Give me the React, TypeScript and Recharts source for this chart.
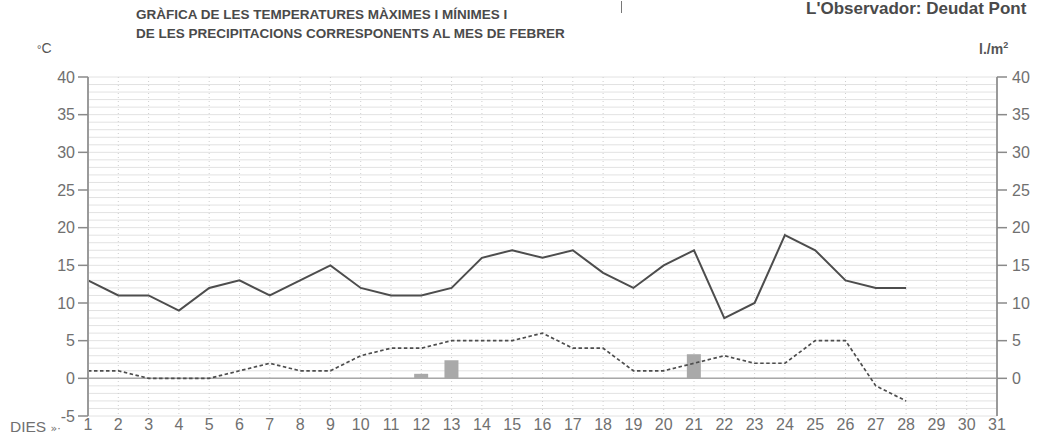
import React from "react";
import {
  ComposedChart,
  Line,
  Bar,
  XAxis,
  YAxis,
  CartesianGrid,
  ReferenceLine,
} from "recharts";

const days = [
  1, 2, 3, 4, 5, 6, 7, 8, 9, 10, 11, 12, 13, 14, 15, 16, 17, 18, 19, 20, 21, 22, 23, 24, 25, 26, 27, 28, 29, 30, 31,
];
const maxTemp = [
  13, 11, 11, 9, 12, 13, 11, 13, 15, 12, 11, 11, 12, 16, 17, 16, 17, 14, 12, 15, 17, 8, 10, 19, 17, 13, 12, 12, null, null, null,
];
const minTemp = [
  1, 1, 0, 0, 0, 1, 2, 1, 1, 3, 4, 4, 5, 5, 5, 6, 4, 4, 1, 1, 2, 3, 2, 2, 5, 5, -1, -3, null, null, null,
];
const rain = [
  0, 0, 0, 0, 0, 0, 0, 0, 0, 0, 0, 0.6, 2.4, 0, 0, 0, 0, 0, 0, 0, 3.2, 0, 0, 0, 0, 0, 0, 0, 0, 0, 0,
];
const tempTicks = [-5, 0, 5, 10, 15, 20, 25, 30, 35, 40];
const rainTicks = [0, 5, 10, 15, 20, 25, 30, 35, 40];
const gridValues = Array.from({ length: 46 }, (_, i) => i - 5);

const data = days.map((d, i) => ({
  day: d,
  max: maxTemp[i],
  min: minTemp[i],
  rain: rain[i],
}));

const FONT = "'Liberation Sans Narrow', 'Liberation Sans', Arial, sans-serif";
const GRAY = "#707070";

export default function App() {
  return (
    <div
      style={{
        position: "absolute",
        left: 0,
        top: 0,
        width: 1040,
        height: 439,
        overflow: "hidden",
        background: "#fff",
        fontFamily: FONT,
      }}
    >
      <div style={{ position: "absolute", left: 136, top: 5, fontSize: 13.5, fontWeight: "bold", color: "#4a4a4a", lineHeight: "19px" }}>
        GRÀFICA DE LES TEMPERATURES MÀXIMES I MÍNIMES I
        <br />
        DE LES PRECIPITACIONS CORRESPONENTS AL MES DE FEBRER
      </div>
      <div style={{ position: "absolute", left: 806, top: 0, fontSize: 17, lineHeight: "17px", fontWeight: "bold", color: "#4a4a4a", whiteSpace: "nowrap" }}>
        L'Observador: Deudat Pont
      </div>
      <div style={{ position: "absolute", left: 621, top: 1, width: 1, height: 12, background: "#777" }} />
      <div style={{ position: "absolute", left: 37, top: 40, fontSize: 14, color: "#555" }}>
        <span style={{ fontSize: 11 }}>°</span>C
      </div>
      <div style={{ position: "absolute", left: 979, top: 40, fontSize: 14, color: "#555", fontWeight: "bold" }}>
        l./m<sup style={{ fontSize: 9 }}>2</sup>
      </div>
      <div style={{ position: "absolute", left: 10, top: 418, fontSize: 15.5, color: GRAY }}>
        DIES <span style={{ fontSize: 11, fontFamily: "DejaVu Sans" }}>»·</span>
      </div>
      <ComposedChart
        width={1040}
        height={439}
        data={data}
        margin={{ top: 77, right: 0, bottom: 0, left: 0 }}
      >
        <CartesianGrid
          yAxisId="t"
          vertical={false}
          horizontal={true}
          horizontalValues={gridValues}
          stroke="#e2e2e2"
        />
        <CartesianGrid yAxisId="t" vertical={true} horizontal={false} stroke="#cfcfcf" strokeDasharray="1 3" />
        <XAxis
          dataKey="day"
          type="number"
          domain={[1, 31]}
          ticks={days}
          interval={0}
          axisLine={false}
          tickLine={false}
          tickSize={0}
          tickMargin={3}
          height={23}
          tick={{ fill: GRAY, fontSize: 16, fontFamily: FONT }}
        />
        <YAxis
          yAxisId="t"
          orientation="left"
          width={88}
          domain={[-5, 40]}
          ticks={tempTicks}
          interval={0}
          axisLine={{ stroke: "#9a9a9a", strokeWidth: 2 }}
          tickLine={{ stroke: "#8a8a8a", strokeWidth: 1.5 }}
          tickSize={10}
          tickMargin={3}
          tick={{ fill: GRAY, fontSize: 16, fontFamily: FONT }}
        />
        <YAxis
          yAxisId="r"
          orientation="right"
          width={43}
          domain={[-5, 40]}
          ticks={rainTicks}
          interval={0}
          axisLine={{ stroke: "#9a9a9a", strokeWidth: 2 }}
          tickLine={{ stroke: "#8a8a8a", strokeWidth: 1.5 }}
          tickSize={10}
          tickMargin={5}
          tick={{ fill: GRAY, fontSize: 16, fontFamily: FONT }}
        />
        <ReferenceLine yAxisId="t" y={0} stroke="#a8a8a8" strokeWidth={1.5} />
        <Bar yAxisId="r" dataKey="rain" barSize={14} fill="#a9a9a9" isAnimationActive={false} />
        <Line
          yAxisId="t"
          type="linear"
          dataKey="min"
          stroke="#4d4d4d"
          strokeWidth={1.7}
          strokeDasharray="3.5 2.5"
          dot={false}
          isAnimationActive={false}
        />
        <Line
          yAxisId="t"
          type="linear"
          dataKey="max"
          stroke="#4d4d4d"
          strokeWidth={2}
          dot={false}
          isAnimationActive={false}
        />
      </ComposedChart>
    </div>
  );
}
